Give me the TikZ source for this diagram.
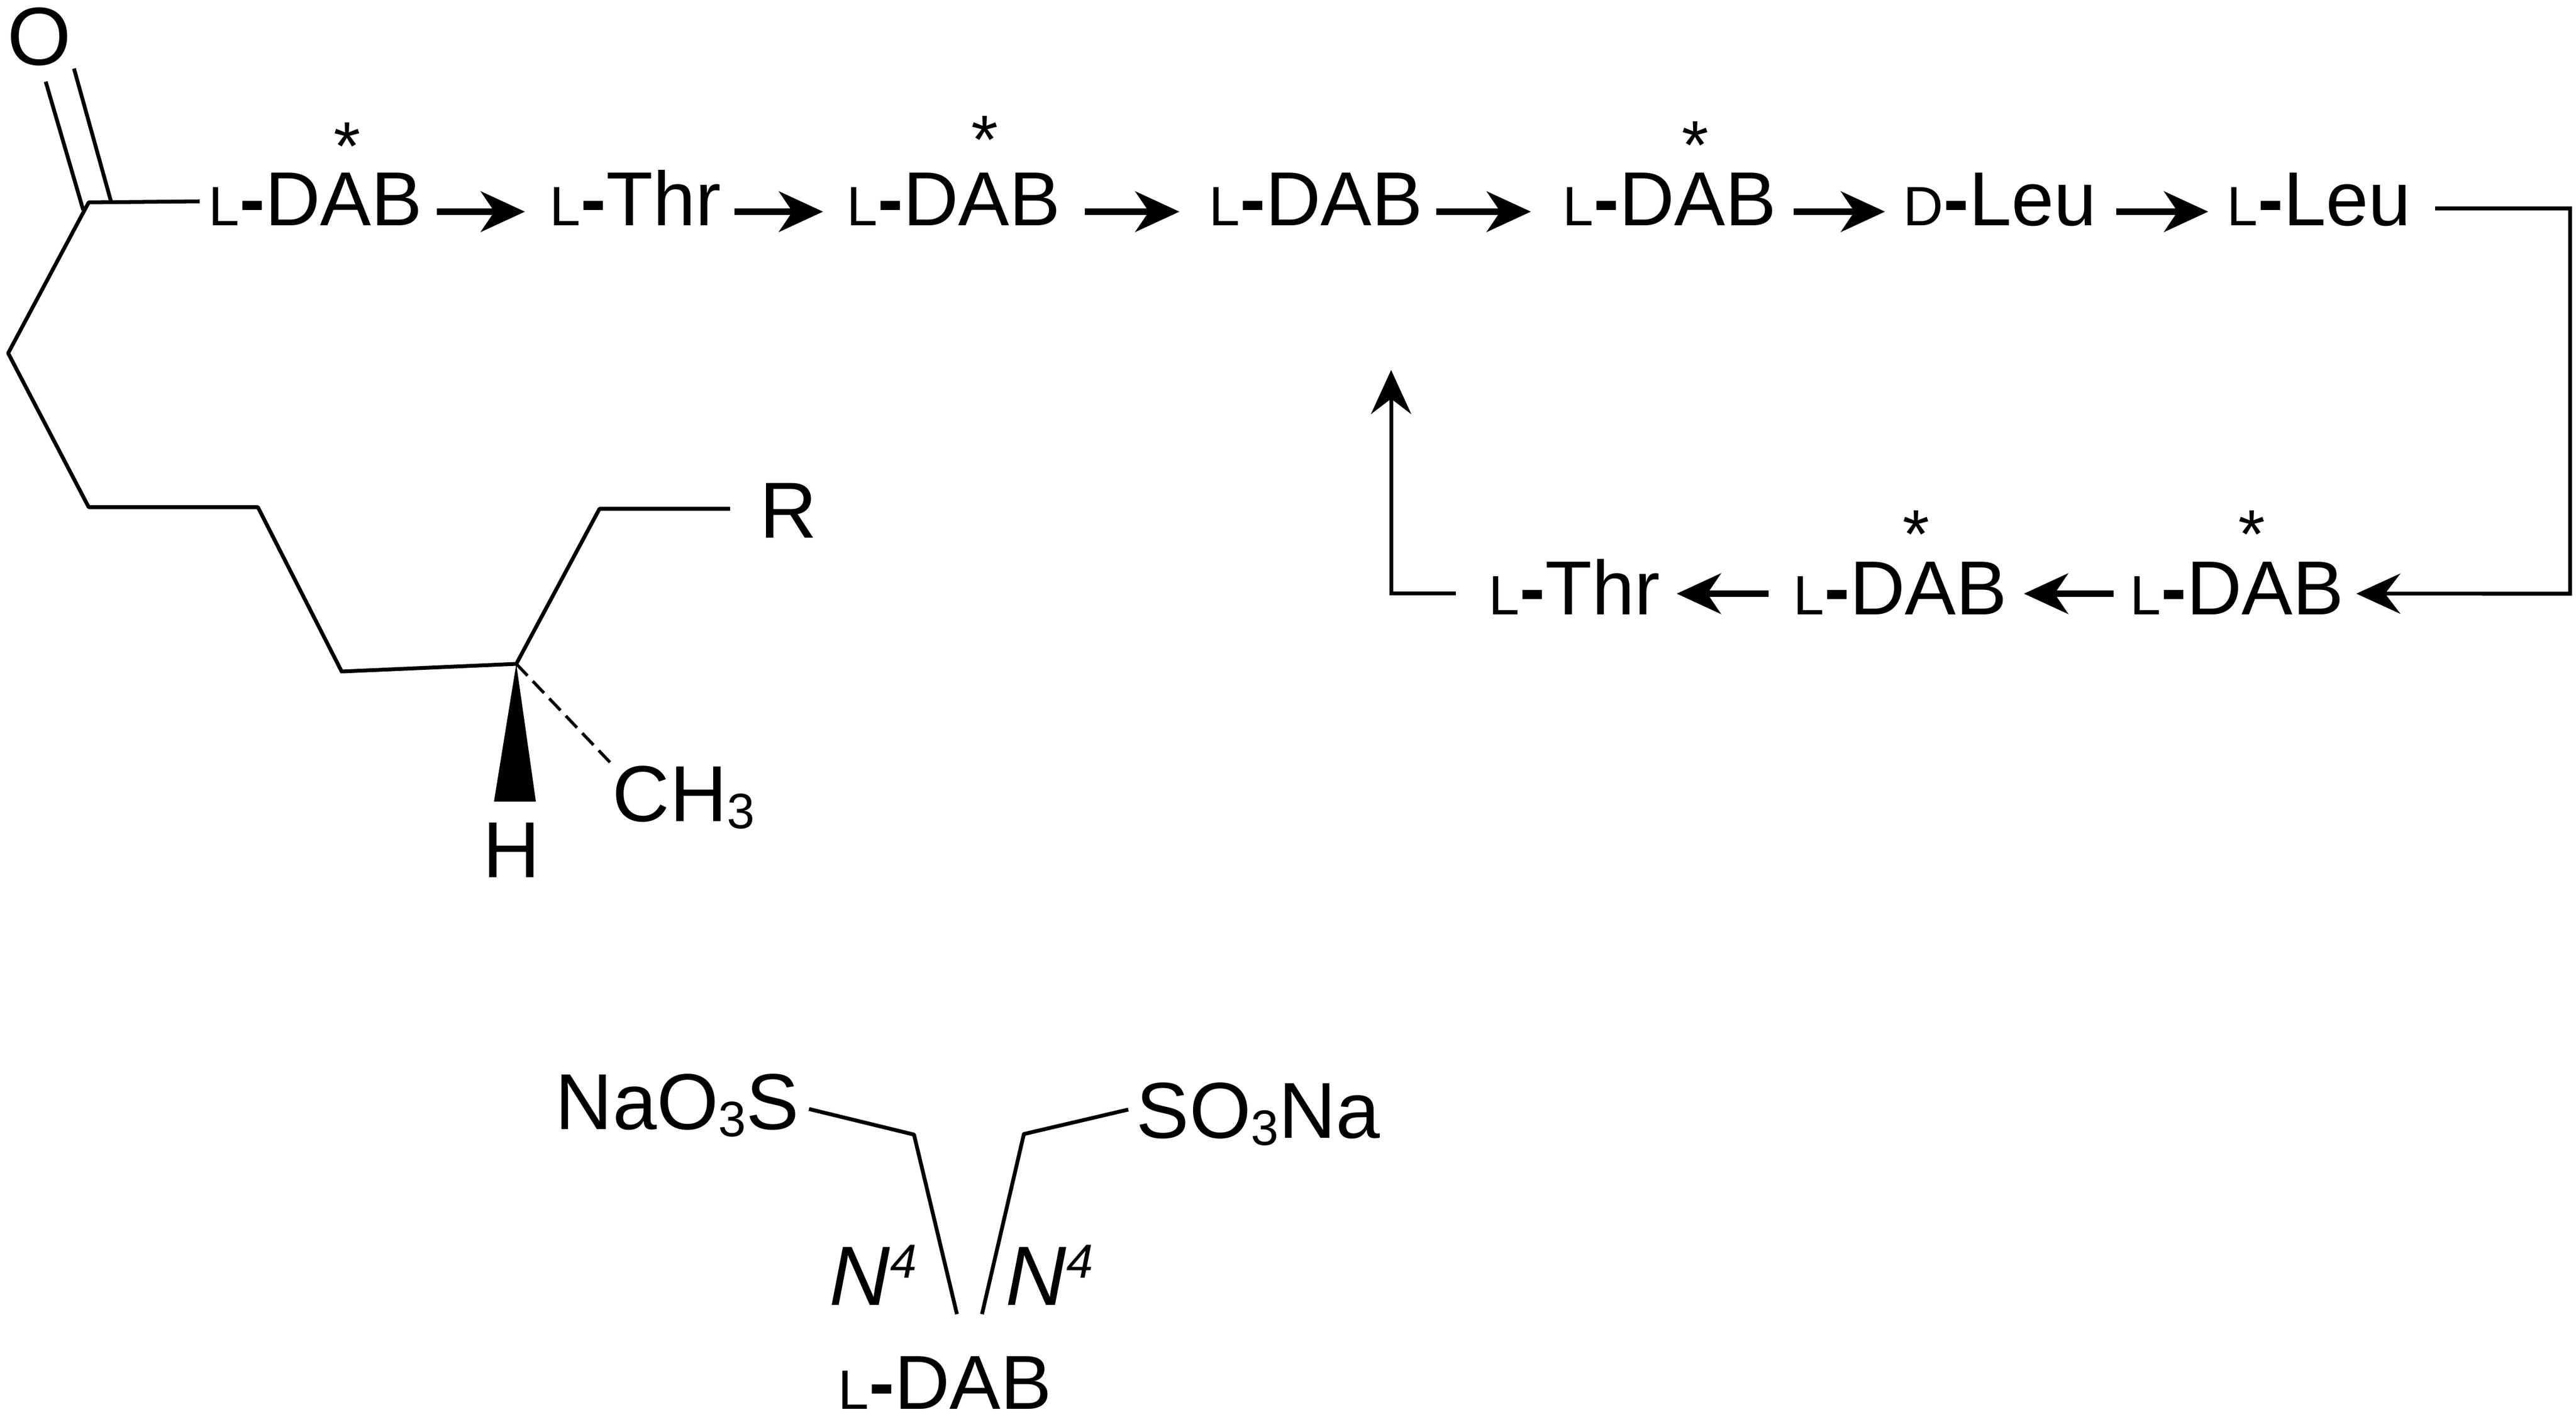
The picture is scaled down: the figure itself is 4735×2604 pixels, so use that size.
\documentclass[tikz,border=0pt]{standalone}
\usepackage{fontspec}
\setmainfont{Liberation Sans}
\usetikzlibrary{arrows.meta,positioning}
\newcommand{\resfont}{\fontsize{40}{42}\selectfont}
\newcommand{\chemfont}{\fontsize{41.5}{44}\selectfont}
\newcommand{\lett}[1]{{\fontsize{29}{31}\selectfont #1}\textbf{-}}
\newcommand{\subnum}[1]{\raisebox{-3.7pt}{\fontsize{26}{28}\selectfont #1}}
\newcommand{\supfour}{\raisebox{14pt}{\fontsize{25}{27}\selectfont\textit{4}}}
\tikzset{
	residue/.style={inner sep=0pt,anchor=base west,font=\resfont,text depth=0pt},
	toprow/.style={residue,text height=14.8pt},
	botrow/.style={residue,text height=22.2pt},
	atomlab/.style={inner sep=0pt,anchor=base west,font=\chemfont},
	starlab/.style={inner sep=0pt,anchor=base,font=\fontsize{36}{38}\selectfont},
	bondline/.style={line width=2pt,line join=round},
	pepline/.style={line width=3.6pt,-{Stealth[length=23pt,width=21pt,inset=7pt]}},
	loopline/.style={line width=2pt,line join=miter,-{Stealth[length=23pt,width=21pt,inset=8pt]}}
}
\begin{document}
\begin{tikzpicture}[x=0.01cm,y=-0.01cm]
\useasboundingbox (0,0) rectangle (4735,2604);
\foreach \n/\x/\t in {1/383/{\lett{L}DAB},2/1010/{\lett{L}Thr},3/1556/{\lett{L}DAB},4/2222/{\lett{L}DAB},5/2872/{\lett{L}DAB},6/3498/{\lett{D}Leu},7/4093/{\lett{L}Leu}}
	\node[toprow](N\n) at (\x,415){\t};
\foreach \n/\x/\t in {8/3915/{\lett{L}DAB},9/3296/{\lett{L}DAB},10/2736/{\lett{L}Thr}}
	\node[botrow](N\n) at (\x,1130){\t};
\foreach \n/\x/\y in {1/638/313,2/1810/301,3/3116/311,4/3522/1026,5/4139/1026}
	\node[starlab](S\n) at (\x,\y){*};
\foreach \a/\b/\s/\e in {1/2/26/45,2/3/24/43,3/4/44/54,4/5/24/58,5/6/31/33,6/7/35/34}
	\draw[pepline] ([xshift=\s*0.01cm]N\a.east) -- ([xshift=-\e*0.01cm]N\b.west);
\foreach \a/\b/\s/\e in {8/9/30/30,9/10/45/30}
	\draw[pepline] ([xshift=-\s*0.01cm]N\a.west) -- ([xshift=\e*0.01cm]N\b.east);
\coordinate (topstart) at (4476,383);
\coordinate (topright) at (4724,383);
\coordinate (botright) at (4724,1091);
\coordinate (looptip) at (2557,680);
\draw[loopline] (topstart) -- (topright) -- (botright) -- ([xshift=22*0.01cm]N8.east);
\draw[loopline] ([xshift=-60*0.01cm]N10.west) -| (looptip);
\node[atomlab,anchor=base,font=\fontsize{43}{45}\selectfont](O) at (72,120){O};
\node[atomlab,anchor=base](R) at (1449,989){R};
\node[atomlab,anchor=base](H) at (940,1612){H};
\node[atomlab](CH) at (1125,1509){CH\subnum{3}};
\coordinate (c0) at (367,370);
\coordinate (c1) at (163,372);
\coordinate (c2) at (15,649);
\coordinate (c3) at (163,932);
\coordinate (c4) at (474,932);
\coordinate (c5) at (628,1234);
\coordinate (c6) at (949,1220);
\coordinate (c7) at (1102,935);
\coordinate (c8) at (1342,935);
\coordinate (d1) at (84,150);
\coordinate (d2) at (153,386);
\coordinate (d3) at (136,126);
\coordinate (d4) at (204,370);
\coordinate (w1) at (908,1473);
\coordinate (w2) at (985,1473);
\coordinate (m1) at (1128,1408);
\draw[bondline] (c0) -- (c1) -- (c2) -- (c3) -- (c4) -- (c5) -- (c6) -- (c7) -- (c8);
\draw[bondline] (d1) -- (d2);
\draw[bondline] (d3) -- (d4);
\fill (c6) -- (w1) -- (w2) -- cycle;
\draw[line width=1.6pt,dash pattern=on 8.5pt off 4pt] (c6) -- (m1);
\node[atomlab](NaL) at (1020,2075){NaO\subnum{3}S};
\node[atomlab](NaR) at (2088,2091){SO\subnum{3}Na};
\node[atomlab,font=\fontsize{44}{46}\selectfont](NL) at (1524,2398){\textit{N}\supfour};
\node[atomlab,font=\fontsize{44}{46}\selectfont](NR) at (1848,2398){\textit{N}\supfour};
\node[residue](DAB) at (1540,2589){\lett{L}DAB};
\coordinate (s1) at (1487,2038);
\coordinate (s2) at (1680,2085);
\coordinate (s3) at (1759,2415);
\coordinate (s4) at (2074,2039);
\coordinate (s5) at (1882,2084);
\coordinate (s6) at (1805,2415);
\draw[bondline] (s1) -- (s2) -- (s3);
\draw[bondline] (s4) -- (s5) -- (s6);
\end{tikzpicture}
\end{document}
